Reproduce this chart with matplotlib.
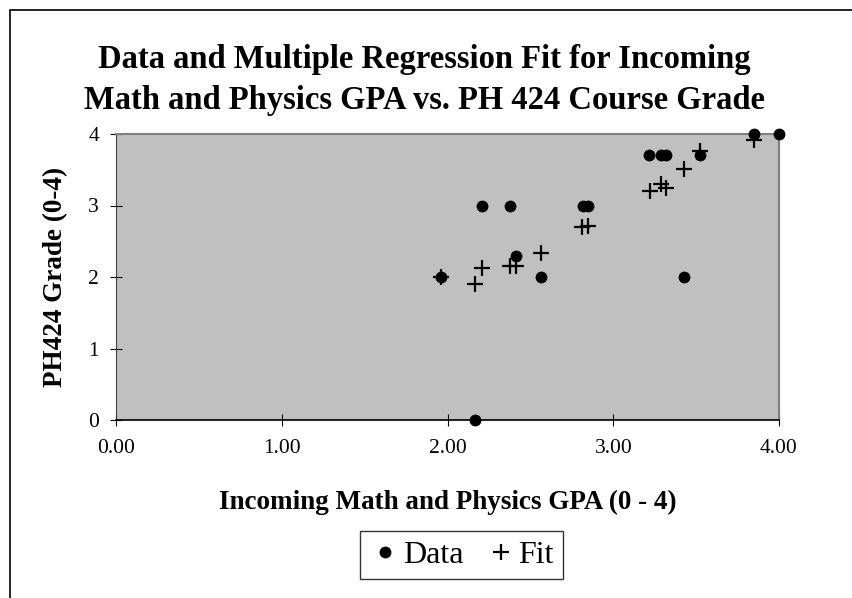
import matplotlib
matplotlib.use("Agg")
import matplotlib.pyplot as plt
from matplotlib.patches import Rectangle

# GPA (x) and PH 424 grade (y)
data_gpa = [1.96, 2.165, 2.21, 2.375, 2.415, 2.565, 2.815, 2.845,
            3.215, 3.285, 3.32, 3.425, 3.525, 3.85, 4.00]
data_grade = [2.0, 0.0, 3.0, 3.0, 2.3, 2.0, 3.0, 3.0,
              3.7, 3.7, 3.7, 2.0, 3.7, 4.0, 4.0]

fit_gpa = [1.96, 2.165, 2.21, 2.375, 2.415, 2.565, 2.81, 2.845,
           3.22, 3.285, 3.32, 3.425, 3.525, 3.85]
fit_grade = [2.0, 1.905, 2.13, 2.15, 2.16, 2.33, 2.70, 2.72,
             3.20, 3.30, 3.245, 3.51, 3.76, 3.92]

x_ticks = [0, 1, 2, 3, 4]
y_ticks = [0, 1, 2, 3, 4]

plt.rcParams['font.family'] = ['Liberation Serif', 'DejaVu Serif']

W, H = 852, 598
fig = plt.figure(figsize=(W / 100, H / 100), dpi=100)
# outer chart frame
fig.patches.append(Rectangle((10 / W, -0.05), 1.1, 1 - 10 / H + 0.05,
                             transform=fig.transFigure, fill=False,
                             edgecolor='black', linewidth=1.2))

ax = fig.add_axes([116.3 / W, 1 - 420 / H, (779 - 116.3) / W, (420 - 134) / H])
ax.set_facecolor('#C0C0C0')

ax.plot(data_gpa, data_grade, linestyle='none', marker='o', markersize=7.5,
        color='black', label='Data', clip_on=False, zorder=3)
ax.plot(fit_gpa, fit_grade, linestyle='none', marker='+', markersize=11,
        markeredgewidth=1.6, color='black', label='Fit', clip_on=False, zorder=4)

ax.set_xlim(0, 4)
ax.set_ylim(0, 4)
ax.set_xticks(x_ticks)
ax.set_yticks(y_ticks)
ax.set_xticklabels([f'{v:.2f}' for v in x_ticks])
ax.set_yticklabels([str(v) for v in y_ticks])
ax.tick_params(direction='inout', length=9, width=0.8, labelsize=15.5)
ax.tick_params(axis='x', pad=9)
ax.tick_params(axis='y', pad=8)

for side in ['top', 'right']:
    ax.spines[side].set_color('#808080')
    ax.spines[side].set_linewidth(1.5)
ax.spines['bottom'].set_linewidth(1.2)
ax.spines['left'].set_color('#404040')

ax.set_xlabel('Incoming Math and Physics GPA (0 - 4)', fontsize=19.5, fontweight='bold', va='center')
ax.set_ylabel('PH424 Grade (0-4)', fontsize=19.5, fontweight='bold', va='center')
ax.xaxis.set_label_coords(0.5, (420 - 502) / 286)
ax.yaxis.set_label_coords((56 - 116.3) / 662.7, 0.5)

fig.text(424 / W, 1 - 80 / H,
         'Data and Multiple Regression Fit for Incoming\nMath and Physics GPA vs. PH 424 Course Grade',
         ha='center', va='center', fontsize=23.5, fontweight='bold', linespacing=1.42)

leg = fig.legend(loc='center', bbox_to_anchor=(461.5 / W, 1 - 555 / H), ncol=2,
                 fontsize=23, frameon=True, fancybox=False, edgecolor='black',
                 handlelength=1.0, handletextpad=0.05, columnspacing=0.66,
                 borderpad=0.3, markerscale=1.0)
leg.get_frame().set_linewidth(1.0)

fig.savefig('out.png', dpi=100)
